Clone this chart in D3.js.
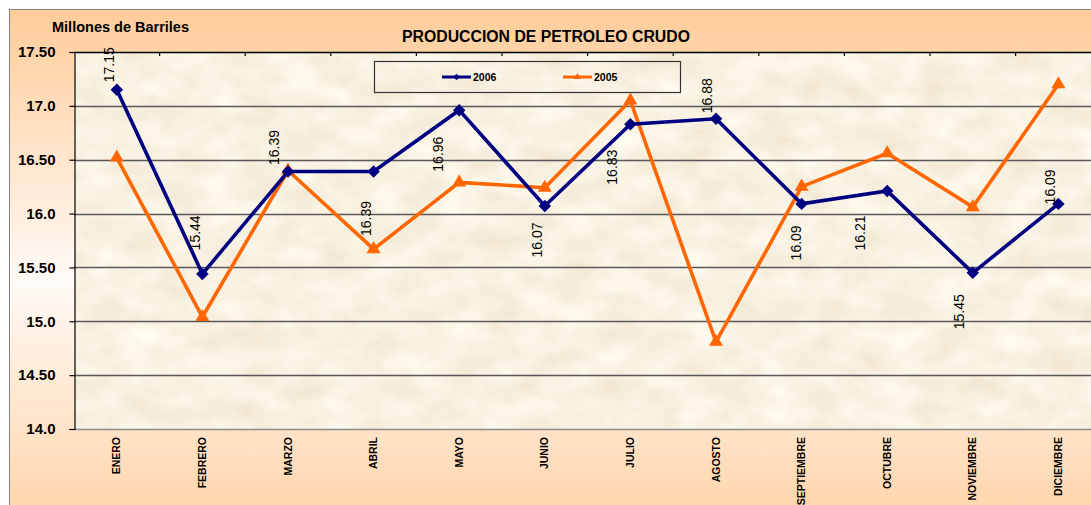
<!DOCTYPE html>
<html>
<head>
<meta charset="utf-8">
<script src="https://cdn.jsdelivr.net/npm/d3@7"></script>
<style>
  body { margin: 0; background: #fff; }
  svg { display: block; font-family: Arial, "Liberation Sans", sans-serif; }
</style>
</head>
<body>
<div id="chart"></div>
<script>
// data ///////////////////////////////////////////////
var months = ["ENERO", "FEBRERO", "MARZO", "ABRIL", "MAYO", "JUNIO", "JULIO",
              "AGOSTO", "SEPTIEMBRE", "OCTUBRE", "NOVIEMBRE", "DICIEMBRE"];
var prod2006 = [17.15, 15.44, 16.39, 16.39, 16.96, 16.07, 16.83, 16.88, 16.09, 16.21, 15.45, 16.09];
var prod2005 = [16.52, 15.04, 16.40, 15.67, 16.29, 16.24, 17.05, 14.81, 16.25, 16.56, 16.06, 17.20];
var yTicks = [14.0, 14.5, 15.0, 15.5, 16.0, 16.5, 17.0, 17.5];
var yTickLabels = ["14.0", "14.50", "15.0", "15.50", "16.0", "16.50", "17.0", "17.50"];

// where the value labels of 2006 sit, relative to their point (layout only)
var labelShift = [[-8, -25], [-7, -41], [-14, -24], [-8, 47], [-21, 44], [-8, 34],
                  [-18, 43], [-9, -23], [-6, 39], [-27, 42], [-14, 39], [-8, -17]];

var W = 1091, H = 505;
var plot = {left: 74, top: 52, bottom: 429, band: 85.6};

var svg = d3.select("#chart").append("svg")
    .attr("width", W).attr("height", H);

var defs = svg.append("defs");

// outer gradient peach -> white -> peach
var grad = defs.append("linearGradient").attr("id", "bg")
    .attr("x1", 0).attr("y1", 0).attr("x2", 0).attr("y2", 1);
grad.append("stop").attr("offset", "0%").attr("stop-color", "#ffcc99");
grad.append("stop").attr("offset", "48%").attr("stop-color", "#fffaf6");
grad.append("stop").attr("offset", "100%").attr("stop-color", "#ffcc99");

// parchment texture
var filt = defs.append("filter").attr("id", "paper")
    .attr("x", 0).attr("y", 0).attr("width", 1).attr("height", 1);
filt.append("feTurbulence").attr("type", "fractalNoise")
    .attr("baseFrequency", "0.025 0.04").attr("numOctaves", 4).attr("seed", 7);
filt.append("feColorMatrix").attr("type", "matrix")
    .attr("values", "0.18 0 0 0 0.855  0.24 0 0 0 0.765  0.32 0 0 0 0.6  0 0 0 0 1");

svg.append("rect")
    .attr("x", 9.5).attr("y", 9.5).attr("width", W + 20).attr("height", H + 60)
    .attr("fill", "url(#bg)").attr("stroke", "#808080");

// scales
var x = d3.scaleBand().domain(months)
    .range([plot.left, plot.left + plot.band * months.length]).padding(0);
var y = d3.scaleLinear().domain([14, 17.5]).range([plot.bottom, plot.top]);
var cx = function(m) { return x(m) + x.bandwidth() / 2; };

var plotW = plot.band * months.length;

svg.append("rect")
    .attr("x", plot.left).attr("y", plot.top)
    .attr("width", plotW).attr("height", plot.bottom - plot.top)
    .attr("filter", "url(#paper)");

// gridlines
svg.append("g").selectAll("line")
    .data(yTicks.filter(function(t) { return t > 14; }))
    .enter().append("line")
    .attr("x1", plot.left).attr("x2", plot.left + plotW)
    .attr("y1", function(d) { return Math.round(y(d)) + 0.5; })
    .attr("y2", function(d) { return Math.round(y(d)) + 0.5; })
    .attr("stroke", function(d) { return d === 17.5 ? "#000" : "#595959"; })
    .attr("stroke-width", 1.3);

// bottom line of plot
svg.append("line")
    .attr("x1", plot.left).attr("x2", plot.left + plotW)
    .attr("y1", plot.bottom + 0.5).attr("y2", plot.bottom + 0.5)
    .attr("stroke", "#8c8c8c").attr("stroke-width", 1.3);

// category ticks along the top edge
svg.append("g").selectAll("line")
    .data(months.slice(1))
    .enter().append("line")
    .attr("x1", function(d) { return x(d); }).attr("x2", function(d) { return x(d); })
    .attr("y1", plot.top).attr("y2", plot.top + 4)
    .attr("stroke", "#000").attr("stroke-width", 1.2);

// y axis
var yAxis = d3.axisLeft(y).tickValues(yTicks).tickSize(5).tickPadding(14)
    .tickFormat(function(d, i) { return yTickLabels[i]; });
var gy = svg.append("g")
    .attr("transform", "translate(" + (plot.left + 0.5) + ",0)")
    .call(yAxis);
gy.select(".domain").attr("stroke", "#000").attr("stroke-width", 1.2);
gy.selectAll(".tick line").attr("stroke", "#000").attr("stroke-width", 1.2);
gy.selectAll(".tick text")
    .attr("fill", "#000").style("font-size", "15px").style("font-weight", "bold")
    .style("font-family", "Arial, 'Liberation Sans', sans-serif");

// category labels
svg.append("g").selectAll("text")
    .data(months)
    .enter().append("text")
    .attr("transform", function(d) { return "translate(" + cx(d) + ",437) rotate(-90)"; })
    .attr("text-anchor", "end").attr("dy", "0.35em")
    .style("font-size", "10.5px").style("font-weight", "bold")
    .text(function(d) { return d; });

// series
var series = [
  {name: "2005", values: prod2005, color: "#ff6600", marker: d3.symbolTriangle, size: 85, rot: 0},
  {name: "2006", values: prod2006, color: "#000080", marker: d3.symbolSquare, size: 78, rot: 45}
];

var line = d3.line()
    .x(function(d, i) { return cx(months[i]); })
    .y(function(d) { return y(d); });

series.forEach(function(s) {
  svg.append("path")
    .datum(s.values)
    .attr("d", line)
    .attr("fill", "none")
    .attr("stroke", s.color)
    .attr("stroke-width", 3.6)
    .attr("stroke-linejoin", "miter");

  svg.append("g").selectAll("path")
    .data(s.values)
    .enter().append("path")
    .attr("d", d3.symbol().type(s.marker).size(s.size))
    .attr("transform", function(d, i) {
      return "translate(" + cx(months[i]) + "," + y(d) + ") rotate(" + s.rot + ")";
    })
    .attr("fill", s.color);
});

// value labels 2006
svg.append("g").selectAll("text")
    .data(prod2006)
    .enter().append("text")
    .attr("transform", function(d, i) {
      var px = cx(months[i]) + labelShift[i][0];
      var py = y(d) + labelShift[i][1];
      return "translate(" + px + "," + py + ") rotate(-90)";
    })
    .attr("text-anchor", "middle").attr("dy", "0.36em")
    .style("font-size", "14px")
    .text(function(d) { return d3.format(".2f")(d); });

// legend
var lg = svg.append("g");
lg.append("rect")
    .attr("x", 374.5).attr("y", 61.5).attr("width", 306).attr("height", 31)
    .attr("fill", "none").attr("stroke", "#333").attr("stroke-width", 1.2);
var legendItems = [
  {name: "2006", color: "#000080", marker: d3.symbolSquare, rot: 45, x0: 442},
  {name: "2005", color: "#ff6600", marker: d3.symbolTriangle, rot: 0, x0: 563}
];
legendItems.forEach(function(s) {
  lg.append("line")
    .attr("x1", s.x0).attr("x2", s.x0 + 29).attr("y1", 77).attr("y2", 77)
    .attr("stroke", s.color).attr("stroke-width", 3);
  lg.append("path")
    .attr("d", d3.symbol().type(s.marker).size(22))
    .attr("transform", "translate(" + (s.x0 + 14.5) + ",77) rotate(" + s.rot + ")")
    .attr("fill", s.color);
  lg.append("text")
    .attr("x", s.x0 + 31).attr("y", 77).attr("dy", "0.36em")
    .style("font-size", "10.5px").style("font-weight", "bold")
    .text(s.name);
});

// titles
svg.append("text")
    .attr("x", 546).attr("y", 42).attr("text-anchor", "middle")
    .style("font-size", "15.8px").style("font-weight", "bold")
    .text("PRODUCCION DE PETROLEO CRUDO");

svg.append("text")
    .attr("x", 52).attr("y", 31.5)
    .style("font-size", "14.5px").style("font-weight", "bold")
    .text("Millones de Barriles");
</script>
</body>
</html>
